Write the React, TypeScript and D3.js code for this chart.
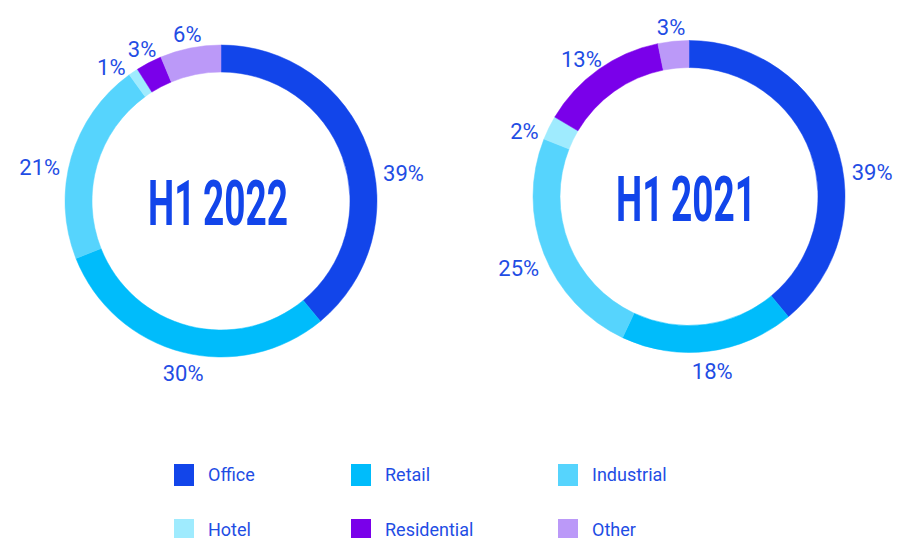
import React from 'react';
import * as d3 from 'd3';

const categories = ['Office', 'Retail', 'Industrial', 'Hotel', 'Residential', 'Other'];
const colors = ['#1245EA', '#00BCFB', '#56D4FD', '#9FEBFE', '#7A00EA', '#BB99F8'];
const values2022 = [39, 30, 21, 1, 2.7, 6.3];
const labels2022 = ['39%', '30%', '21%', '1%', '3%', '6%'];
const values2021 = [39, 18, 24, 2.5, 13.3, 3.2];
const labels2021 = ['39%', '18%', '25%', '2%', '13%', '3%'];
const titles = ['H1\u20092022', 'H1\u20092021'];

const W = 899;
const H = 538;
const OUTER = 156;
const INNER = 129;
const LABEL_FS = 22;
const LABEL_GAP = 9;
const LABEL_DY = 3;
const TEXT_BLUE = '#1F4DE4';
const TITLE_BLUE = '#1245EA';
const FONT = 'Roboto, "Liberation Sans", Arial, sans-serif';

// layout: angular nudges (degrees) applied to label placement, per donut
const labelNudge2022 = [9.5, -2.6, -4, -3.5, 1.4, 0.5];
const labelNudge2021 = [10.6, 0, -1.8, -2.7, 0, 0];

const donuts = [
  { cx: 221, cy: 201, values: values2022, labels: labels2022, nudge: labelNudge2022, title: titles[0] },
  { cx: 689, cy: 196.5, values: values2021, labels: labels2021, nudge: labelNudge2021, title: titles[1] },
];

const legendCols = [174, 351, 558];
const legendRows = [464, 519];

function Donut({ cx, cy, values, labels, nudge, title }: any) {
  const pie = d3.pie<number>().sort(null).value((d) => d).startAngle(0).endAngle(2 * Math.PI);
  const arc = d3.arc<d3.PieArcDatum<number>>().innerRadius(INNER).outerRadius(OUTER);
  const arcs = pie(values);
  return (
    <g transform={`translate(${cx},${cy})`}>
      {arcs.map((a, i) => (
        <path key={i} d={arc(a) || ''} fill={colors[i]} stroke={colors[i]} strokeWidth={0.5} />
      ))}
      {arcs.map((a, i) => {
        const mid = (a.startAngle + a.endAngle) / 2 + (nudge[i] * Math.PI) / 180;
        const txt = labels[i];
        const w = LABEL_FS * (0.562 * (txt.length - 1) + 0.74);
        const h = LABEL_FS * 0.72;
        const s = Math.sin(mid);
        const c = Math.cos(mid);
        const x = s * (OUTER + LABEL_GAP) + (s * w) / 2;
        const y = -c * (OUTER + LABEL_GAP) - (c * h) / 2 + LABEL_DY;
        return (
          <text
            key={'l' + i}
            x={x}
            y={y}
            dy="0.36em"
            textAnchor="middle"
            fontFamily={FONT}
            fontSize={LABEL_FS}
            fill={TEXT_BLUE}
          >
            {txt}
          </text>
        );
      })}
      <text
        x={-73}
        y={24}
        fontFamily={FONT}
        fontWeight={700}
        fontSize={63}
        fill={TITLE_BLUE}
        textLength={140}
        lengthAdjust="spacingAndGlyphs"
      >
        {title}
      </text>
    </g>
  );
}

export default function App() {
  return (
    <svg
      width={W}
      height={H}
      viewBox={`0 0 ${W} ${H}`}
      style={{ position: 'absolute', left: 0, top: 0, background: '#fff' }}
    >
      {donuts.map((d, i) => (
        <Donut key={i} {...d} />
      ))}
      {categories.map((cat, i) => {
        const x = legendCols[i % 3];
        const y = legendRows[Math.floor(i / 3)];
        return (
          <g key={cat} transform={`translate(${x},${y})`}>
            <rect width={20} height={22} fill={colors[i]} />
            <text x={34} y={17} fontFamily={FONT} fontSize={18} fill={TEXT_BLUE}>
              {cat}
            </text>
          </g>
        );
      })}
    </svg>
  );
}
